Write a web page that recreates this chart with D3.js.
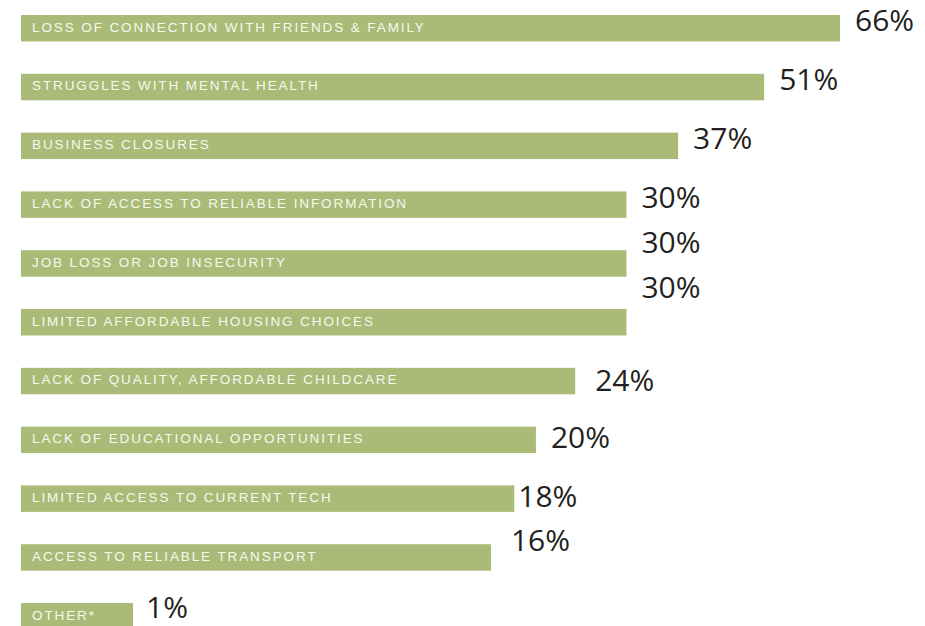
<!doctype html>
<html lang="en">
  <head>
    <meta charset="utf-8">
    <title>Pandemic impacts</title>
    <style>
      html, body { margin: 0; padding: 0; background: #fff; }
      svg { display: block; }
      .cat { font-family: "Liberation Sans", Arial, sans-serif; font-size: 13.5px; letter-spacing: 1.9px; fill: #f6f8f0; }
      .val { font-family: "Open Sans", sans-serif; font-size: 30px; fill: #231f20; }
    </style>
    <script src="https://cdn.jsdelivr.net/npm/d3@7"></script>
  </head>
  <body>
    <svg id="chart" width="925" height="626"></svg>
    <script>
      const categories = [
        "LOSS OF CONNECTION WITH FRIENDS & FAMILY",
        "STRUGGLES WITH MENTAL HEALTH",
        "BUSINESS CLOSURES",
        "LACK OF ACCESS TO RELIABLE INFORMATION",
        "JOB LOSS OR JOB INSECURITY",
        "LIMITED AFFORDABLE HOUSING CHOICES",
        "LACK OF QUALITY, AFFORDABLE CHILDCARE",
        "LACK OF EDUCATIONAL OPPORTUNITIES",
        "LIMITED ACCESS TO CURRENT TECH",
        "ACCESS TO RELIABLE TRANSPORT",
        "OTHER*"
      ];
      const values = [66, 51, 37, 30, 30, 30, 24, 20, 18, 16, 1];

      // the original places some value labels by hand; keep those nudges here
      const labelNudge = {
        4: { dy: -13 },
        5: { dy: -27 },
        6: { dx: 20, dy: 7 },
        7: { dy: 5 },
        8: { dx: 4, dy: 5 },
        9: { dx: 20, dy: -9 },
        10: { dx: 13, dy: -1 }
      };

      const svg = d3.select("#chart");
      const x0 = 21;

      // bar lengths in the source are compressed, not linear; a pow scale follows them
      const x = d3.scalePow().exponent(0.32).domain([1, 66]).range([133, 840]);

      const y = d3.scaleBand()
        .domain(categories)
        .range([15, 629.5])
        .paddingInner(0.55)
        .paddingOuter(0);

      const rows = categories.map((c, i) => ({ c, v: values[i], i }));

      const g = svg.append("g");

      g.selectAll("rect").data(rows).join("rect")
        .attr("x", x0)
        .attr("y", (d) => y(d.c))
        .attr("width", (d) => x(d.v) - x0)
        .attr("height", y.bandwidth())
        .attr("fill", "#a9bb76");

      g.selectAll("text.cat").data(rows).join("text")
        .attr("class", "cat")
        .attr("x", x0 + 11)
        .attr("y", (d) => y(d.c) + 16.5)
        .text((d) => d.c);

      g.selectAll("text.val").data(rows).join("text")
        .attr("class", "val")
        .attr("x", (d) => x(d.v) + ((labelNudge[d.i] || {}).dx ?? 15))
        .attr("y", (d) => y(d.c) + y.bandwidth() / 2 + 3 + ((labelNudge[d.i] || {}).dy ?? 0))
        .text((d) => d.v + "%");
    </script>
  </body>
</html>
